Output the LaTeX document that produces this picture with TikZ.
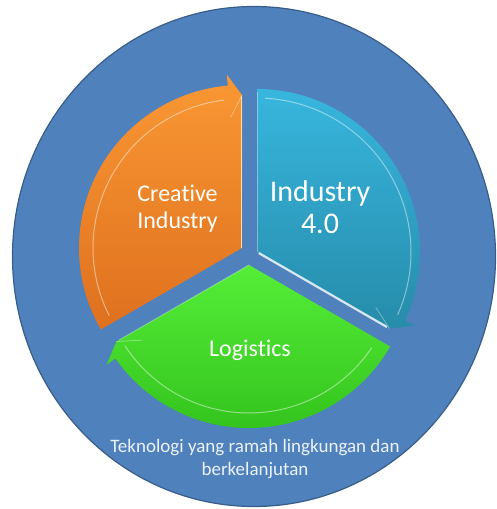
\documentclass[tikz,border=0pt]{standalone}
\usepackage{fontspec}
\setmainfont{Carlito}[Ligatures=NoCommon]
\begin{document}
\begin{tikzpicture}[x=1pt,y=1pt,
  lbl/.style={text=white, inner sep=0pt, align=center},
  hilite/.style={white, opacity=0.45, line width=1pt},
  barbline/.style={white, opacity=0.35, line width=0.8pt}]
\definecolor{bgblue}{RGB}{79,129,189}
\definecolor{bgedge}{RGB}{56,93,138}
\definecolor{orTop}{RGB}{250,152,52}
\definecolor{orBot}{RGB}{222,112,30}
\definecolor{orLight}{RGB}{255,222,170}
\definecolor{cyTop}{RGB}{56,182,222}
\definecolor{cyBot}{RGB}{38,140,170}
\definecolor{grTop}{RGB}{86,238,56}
\definecolor{grBot}{RGB}{52,196,30}
\definecolor{txtc}{RGB}{236,242,250}
\useasboundingbox (0,0) rectangle (497,509);
% background disc
\filldraw[fill=bgblue, draw=bgedge, line width=1.2pt] (254,252.5) ellipse [x radius=241.5, y radius=250];
% sector vertices
\coordinate (oc) at (242,261);
\coordinate (cc) at (257,257);
\coordinate (gc) at (249,244);
% orange sector
\shade[top color=orTop, bottom color=orBot]
  (oc) -- ([shift={(210:163)}]oc) arc[start angle=210, end angle=95, radius=163]
  -- ([shift={(95:174)}]oc) -- ([shift={(90:153)}]oc) -- cycle;
\draw[hilite] ([shift={(207:149)}]oc) arc[start angle=207, end angle=97, radius=149];
\draw[barbline] ([shift={(95:131)}]oc) -- ([shift={(90:153)}]oc);
\draw[orLight, line width=1.4pt] ([shift={(-0.7,0)}]oc) -- ([shift={(-0.7,152)}]oc);
% cyan sector
\shade[top color=cyTop, bottom color=cyBot]
  (cc) -- ([shift={(90:163)}]cc) arc[start angle=90, end angle=-25, radius=163]
  -- ([shift={(-25:174)}]cc) -- ([shift={(-30:153)}]cc) -- cycle;
\draw[hilite] ([shift={(87:154)}]cc) arc[start angle=87, end angle=-24, radius=154];
\draw[barbline] ([shift={(-25:131)}]cc) -- ([shift={(-30:153)}]cc);
\draw[white, opacity=0.8, line width=2.2pt] ([shift={(-30:2)}]cc) -- ([shift={(-30:150)}]cc);
\draw[white, opacity=0.35, line width=1pt] ([shift={(0.7,0)}]cc) -- ([shift={(0.7,160)}]cc);
% green sector
\shade[top color=grTop, bottom color=grBot]
  (gc) -- ([shift={(330:163)}]gc) arc[start angle=330, end angle=215, radius=163]
  -- ([shift={(215:174)}]gc) -- ([shift={(210:153)}]gc) -- cycle;
\draw[hilite] ([shift={(326:148)}]gc) arc[start angle=326, end angle=213, radius=148];
\draw[barbline] ([shift={(215:131)}]gc) -- ([shift={(210:153)}]gc);
\draw[white, opacity=0.3, line width=1pt] (gc) -- ([shift={(210:150)}]gc);
% labels
\node[lbl, font=\fontsize{24}{27}\selectfont] (creative) at (177.5,300) {Creative\\Industry};
\node[lbl, font=\fontsize{30}{32}\selectfont] (industry) at (320,302) {Industry\\4.0};
\node[lbl, font=\fontsize{24}{27}\selectfont, anchor=base] (logistics) at (250,152) {Logistics};
\node[lbl, text=txtc, font=\fontsize{19}{23}\selectfont] (tech) at (255,49.6) {Teknologi yang ramah lingkungan dan\\berkelanjutan};
\end{tikzpicture}
\end{document}
